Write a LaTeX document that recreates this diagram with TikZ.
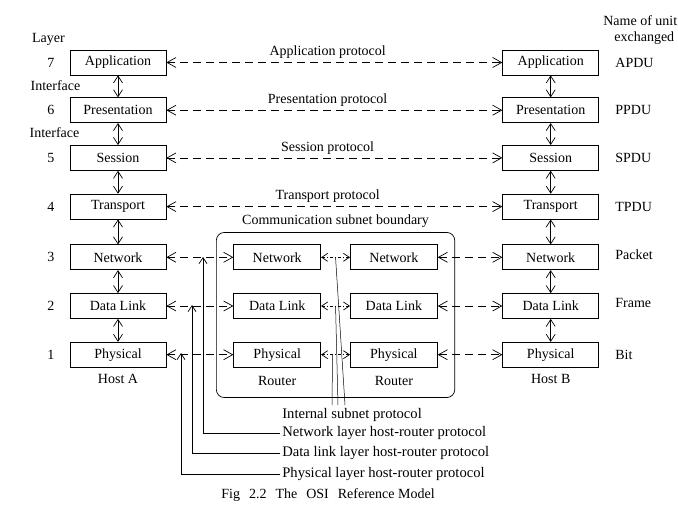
\documentclass[tikz,border=0pt]{standalone}
\usepackage{fontspec}
\setmainfont{Liberation Serif}
\usetikzlibrary{positioning,fit,arrows.meta}

\begin{document}
\begin{tikzpicture}[x=1pt,y=-1pt,>={Straight Barb[length=9pt,width=10pt]},
    font=\fontsize{14}{16}\selectfont,line width=0.7pt]
      \tikzstyle{layer}=[draw,minimum width=96pt,minimum height=25pt,inner sep=0pt]
      \tikzstyle{rlayer}=[layer,minimum width=87pt]
      \tikzstyle{peer}=[<->,dash pattern=on 8pt off 5pt]
      \tikzstyle{hop}=[<->,>={Straight Barb[length=6pt,width=8pt]},dash pattern=on 3pt off 2pt on 1pt off 2pt]
      \tikzstyle{updown}=[<->,>={Straight Barb[length=7pt,width=9pt]}]
      \tikzstyle{note}=[inner sep=2pt,anchor=west,font=\fontsize{14.6}{16}\selectfont]
      \tikzstyle{unit}=[inner sep=0pt]

      \useasboundingbox (0,0) rectangle (678,508);

      % host A
      \node[layer] (a7) at (118,62.5) {Application};
      \node[layer,below=22pt of a7] (a6) {Presentation};
      \node[layer,below=22pt of a6] (a5) {Session};
      \node[layer,below=23pt of a5] (a4) {Transport};
      \node[layer,below=25pt of a4] (a3) {Network};
      \node[layer,below=23pt of a3] (a2) {Data Link};
      \node[layer,below=23pt of a2] (a1) {Physical};
      \node[unit,below=6pt of a1] (hosta) {Host A};

      % host B
      \node[layer,right=336pt of a7] (b7) {Application};
      \node[layer,right=336pt of a6] (b6) {Presentation};
      \node[layer,right=336pt of a5] (b5) {Session};
      \node[layer,right=336pt of a4] (b4) {Transport};
      \node[layer,right=336pt of a3] (b3) {Network};
      \node[layer,right=336pt of a2] (b2) {Data Link};
      \node[layer,right=336pt of a1] (b1) {Physical};
      \node[unit,below=6pt of b1] (hostb) {Host B};

      % routers
      \node[rlayer,right=67pt of a3] (ra3) {Network};
      \node[rlayer,right=67pt of a2] (ra2) {Data Link};
      \node[rlayer,right=67pt of a1] (ra1) {Physical};
      \node[rlayer,right=29pt of ra3] (rb3) {Network};
      \node[rlayer,right=29pt of ra2] (rb2) {Data Link};
      \node[rlayer,right=29pt of ra1] (rb1) {Physical};
      \node[unit,below=8pt of ra1] (rta) {Router};
      \node[unit,below=8pt of rb1] (rtb) {Router};
      \node[draw,rounded corners=8pt,fit=(ra3)(rb3)(rta)(rtb),inner xsep=17pt,inner ysep=12pt] (subnet) {};
      \node[unit,above=4pt of subnet] (sublbl) {Communication subnet boundary};

      % layer numbers and headings
      \node[unit,left=15pt of a7] (n7) {7};
      \node[unit,left=15pt of a6] (n6) {6};
      \node[unit,left=15pt of a5] (n5) {5};
      \node[unit,left=15pt of a4] (n4) {4};
      \node[unit,left=15pt of a3] (n3) {3};
      \node[unit,left=15pt of a2] (n2) {2};
      \node[unit,left=15pt of a1] (n1) {1};
      \node[unit] (lyr) at (48.5,39) {Layer};
      \node[unit] (if6) at (55.5,86) {Interface};
      \node[unit] (if5) at (54.5,133) {Interface};

      \node[unit,anchor=west] (nou) at (603,21) {Name of unit};
      \node[unit,anchor=west] (exch) at (614,38) {exchanged};
      \node[unit,right=16pt of b7] (u7) {APDU};
      \node[unit,right=16pt of b6] (u6) {PPDU};
      \node[unit,right=16pt of b5] (u5) {SPDU};
      \node[unit,right=16pt of b4] (u4) {TPDU};
      \node[unit,right=16pt of b3,yshift=3pt] (u3) {Packet};
      \node[unit,right=16pt of b2,yshift=3pt] (u2) {Frame};
      \node[unit,right=16pt of b1] (u1) {Bit};

      % interfaces
      \draw[updown] (a7) -- (a6);
      \draw[updown] (a6) -- (a5);
      \draw[updown] (a5) -- (a4);
      \draw[updown] (a4) -- (a3);
      \draw[updown] (a3) -- (a2);
      \draw[updown] (a2) -- (a1);
      \draw[updown] (b7) -- (b6);
      \draw[updown] (b6) -- (b5);
      \draw[updown] (b5) -- (b4);
      \draw[updown] (b4) -- (b3);
      \draw[updown] (b3) -- (b2);
      \draw[updown] (b2) -- (b1);

      % peer protocols
      \draw[peer] (a7) -- node[above,pos=0.48] (p7) {Application protocol} (b7);
      \draw[peer] (a6) -- node[above,pos=0.48] (p6) {Presentation protocol} (b6);
      \draw[peer] (a5) -- node[above,pos=0.48] (p5) {Session protocol} (b5);
      \draw[peer] (a4) -- node[above,pos=0.48] (p4) {Transport protocol} (b4);
      \draw[peer] (a3) -- (ra3);
      \draw[peer] (a2) -- (ra2);
      \draw[peer] (a1) -- (ra1);
      \draw[hop] (ra3) -- coordinate (m3) (rb3);
      \draw[hop] (ra2) -- coordinate (m2) (rb2);
      \draw[hop] (ra1) -- coordinate[xshift=-3pt] (m1) (rb1);
      \draw[peer] (rb3) -- (b3);
      \draw[peer] (rb2) -- (b2);
      \draw[peer] (rb1) -- (b1);

      % notes below
      \node[note] (isp) at (280,415) {Internal subnet protocol};
      \node[note] (nlp) at (280,433) {Network layer host-router protocol};
      \node[note] (dlp) at (280,453) {Data link layer host-router protocol};
      \node[note] (plp) at (280,474) {Physical layer host-router protocol};
      \coordinate (i3) at (345,405);
      \coordinate (i2) at (338,405);
      \coordinate (i1) at (332,405);
      \coordinate (t3) at (203,257);
      \coordinate (t2) at (192,305);
      \coordinate (t1) at (181,353);
      \draw[line width=0.5pt] (m3) -- (i3);
      \draw[line width=0.5pt] (m2) -- (i2);
      \draw[line width=0.5pt] (m1) -- (i1);
      \draw[->,>={Straight Barb[length=6pt,width=8pt]}] (nlp.west) -| (t3);
      \draw[->,>={Straight Barb[length=6pt,width=8pt]}] (dlp.west) -| (t2);
      \draw[->,>={Straight Barb[length=6pt,width=8pt]}] (plp.west) -| (t1);

      \node[font=\fontsize{14}{16}\selectfont] (cap) at (328,495) {Fig\hspace{9pt}2.2\hspace{9pt}The\hspace{9pt}OSI\hspace{9pt}Reference Model};
\end{tikzpicture}
\end{document}
